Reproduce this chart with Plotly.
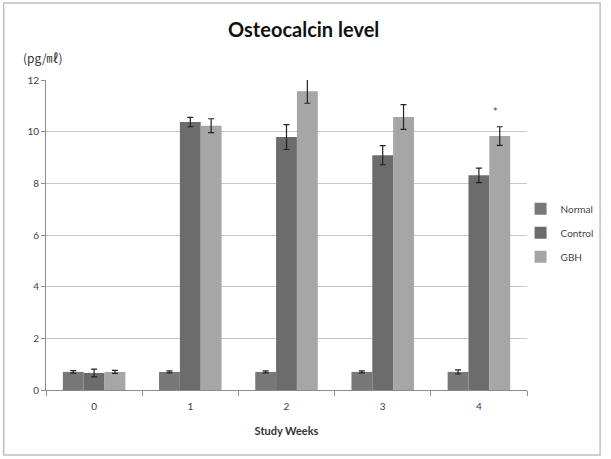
import plotly.graph_objects as go

weeks = ["0", "1", "2", "3", "4"]
normal = [0.70, 0.70, 0.70, 0.70, 0.70]
normal_err = [0.05, 0.04, 0.04, 0.04, 0.08]
control = [0.66, 10.37, 9.79, 9.09, 8.31]
control_err = [0.15, 0.18, 0.48, 0.37, 0.28]
gbh = [0.70, 10.23, 11.56, 10.57, 9.83]
gbh_err = [0.06, 0.27, 0.46, 0.48, 0.36]
series_names = ["Normal", "Control", "GBH"]
colors = ["#787878", "#6c6c6c", "#a6a6a6"]

fig = go.Figure()
for name, vals, errs, col in zip(series_names, [normal, control, gbh],
                                 [normal_err, control_err, gbh_err], colors):
    fig.add_trace(go.Bar(
        x=weeks, y=vals, name=name, legendgroup=name,
        marker=dict(color=col, line=dict(width=0)),
        error_y=dict(type="data", array=errs, visible=True, color="#222222",
                     thickness=1.2, width=3),
    ))

fig.update_layout(
    width=611, height=459,
    margin=dict(l=46, r=84, t=80, b=69, autoexpand=False),
    paper_bgcolor="white", plot_bgcolor="white",
    barmode="group", bargap=0.35, bargroupgap=0,
    font=dict(family="Lato, Open Sans, sans-serif", color="#404040", size=10),
    title=dict(text="<b>Osteocalcin level</b>", x=0.497, xanchor="center",
               y=0.935, yanchor="middle", font=dict(size=20, color="#111111")),
    legend=dict(xref="container", yref="container", x=0.852, y=0.577,
                xanchor="left", yanchor="top", traceorder="grouped",
                font=dict(size=10, color="#444444"), itemwidth=30,
                tracegroupgap=5, bgcolor="rgba(0,0,0,0)"),
    showlegend=True,
    xaxis=dict(type="category", showgrid=False, showline=True, linecolor="#8c8c8c",
               linewidth=1, ticks="outside", tickson="boundaries", ticklen=5,
               tickcolor="#8c8c8c", tickfont=dict(size=10, color="#404040"),
               ticklabelstandoff=7,
               title=dict(text="<b>Study Weeks</b>", font=dict(size=11, color="#333333"),
                          standoff=16)),
    yaxis=dict(range=[0, 12], dtick=2, showgrid=True, gridcolor="#c8c8c8",
               gridwidth=1, showline=True, linecolor="#8c8c8c", linewidth=1,
               ticks="outside", ticklen=4, tickcolor="#8c8c8c", zeroline=False,
               tickfont=dict(size=10, color="#404040")),
)

fig.add_annotation(x="4", y=10.8, text="*", showarrow=False, xshift=17,
                   font=dict(size=11, color="#444444"))
fig.add_annotation(xref="paper", yref="paper", x=-0.052, y=1.074, xanchor="left",
                   yanchor="middle", text="(pg/㎖)", showarrow=False,
                   font=dict(size=12, color="#333333",
                             family="Noto Sans CJK KR, Lato, sans-serif"))
fig.add_shape(type="rect", xref="paper", yref="paper",
              x0=-0.088, x1=1.152, y0=-0.21, y1=1.248,
              line=dict(color="#c0c0c0", width=1.5), fillcolor="rgba(0,0,0,0)",
              layer="below")

fig.write_html("out.html")
